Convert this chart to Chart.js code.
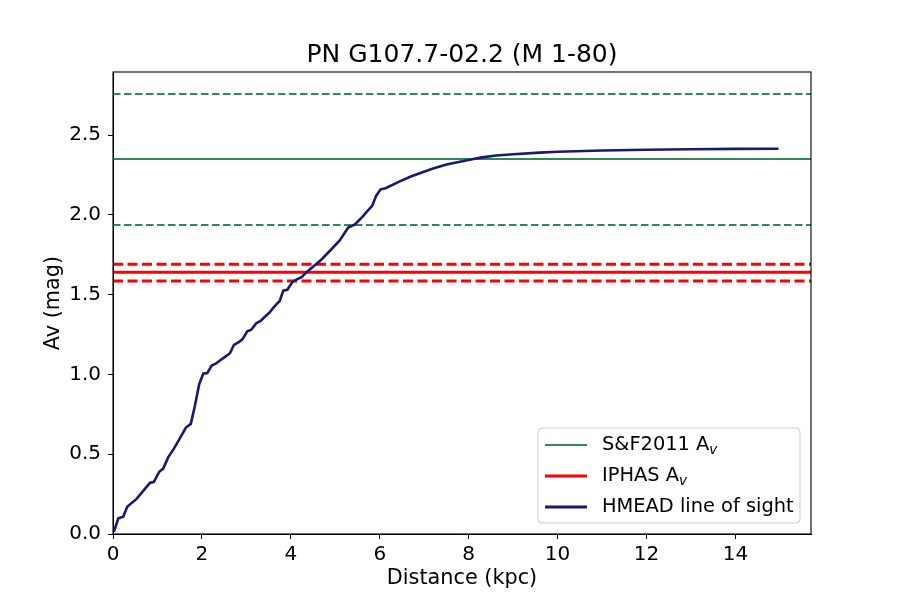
<!DOCTYPE html>
<html>
<head>
<meta charset="utf-8">
<script src="https://cdn.jsdelivr.net/npm/chart.js@4.4.1/dist/chart.umd.min.js"></script>
<style>
  html, body { margin: 0; padding: 0; background: #fff; }
  #wrap { width: 900px; height: 600px; }
</style>
</head>
<body>
<div id="wrap"><canvas id="av-chart" width="900" height="600"></canvas></div>
<script>
// HMEAD line of sight (distance in kpc, Av in mag)
const distKpc = [0.02, 0.12, 0.23, 0.32, 0.42, 0.53, 0.68, 0.83, 0.92, 1.04, 1.13, 1.24, 1.37, 1.5, 1.64, 1.75,
  1.84, 1.94, 2.03, 2.12, 2.22, 2.31, 2.42, 2.52, 2.63, 2.72, 2.82, 2.91, 3.02, 3.11, 3.22, 3.32, 3.41, 3.51,
  3.6, 3.68, 3.75, 3.83, 3.92, 4.04, 4.14, 4.24, 4.39, 4.5, 4.69, 4.88, 5.1, 5.29, 5.44, 5.62, 5.71, 5.83,
  5.92, 6.02, 6.13, 6.45, 6.7, 6.9, 7.2, 7.5, 7.75, 8.02, 8.3, 8.62, 9.0, 9.6, 10.0, 11.0, 12.0, 13.0, 14.0, 14.97];
const hmeadAv = [0.014, 0.098, 0.108, 0.17, 0.195, 0.22, 0.27, 0.32, 0.327, 0.39, 0.41, 0.48, 0.535, 0.598, 0.667, 0.69,
  0.80, 0.94, 1.004, 1.008, 1.056, 1.067, 1.09, 1.11, 1.133, 1.185, 1.20, 1.22, 1.27, 1.28, 1.32, 1.335, 1.36, 1.385,
  1.415, 1.44, 1.46, 1.525, 1.53, 1.58, 1.595, 1.61, 1.65, 1.675, 1.72, 1.775, 1.84, 1.92, 1.94, 1.99, 2.02, 2.056,
  2.12, 2.16, 2.167, 2.21, 2.24, 2.26, 2.29, 2.315, 2.33, 2.345, 2.36, 2.372, 2.38, 2.39, 2.395, 2.403, 2.408, 2.411, 2.413, 2.414];

// horizontal reference levels: [value, lower, upper]
const sfAv = [2.35, 1.936, 2.757];
const iphasAv = [1.64, 1.585, 1.69];

const xTicks = [0, 2, 4, 6, 8, 10, 12, 14];
const yTicks = [0.0, 0.5, 1.0, 1.5, 2.0, 2.5];

const X_MIN = 0, X_MAX = 15.7;
const Y_MIN = 0, Y_MAX = 2.895;

const GREEN = '#2e8b57';
const RED = '#ff0000';
const NAVY = '#191970';
const FONT = "'DejaVu Sans', sans-serif";

const hline = (v) => [{ x: X_MIN, y: v }, { x: X_MAX, y: v }];

const legendItems = [
  { text: 'S&F2011 A', sub: 'v', color: GREEN, width: 2 },
  { text: 'IPHAS A', sub: 'v', color: RED, width: 3 },
  { text: 'HMEAD line of sight', sub: '', color: NAVY, width: 3 }
];

const frameAndLegend = {
  id: 'frameAndLegend',
  afterDraw(chart) {
    const { ctx, chartArea: a } = chart;
    ctx.save();
    ctx.strokeStyle = '#000';
    ctx.lineWidth = 1.1;
    ctx.strokeRect(a.left, a.top, a.right - a.left, a.bottom - a.top);

    // legend box, lower right
    const bx = 538, by = 428, bw = 262, bh = 95, r = 4;
    ctx.beginPath();
    ctx.roundRect(bx, by, bw, bh, r);
    ctx.fillStyle = 'rgba(255,255,255,0.8)';
    ctx.fill();
    ctx.strokeStyle = '#cccccc';
    ctx.lineWidth = 1;
    ctx.stroke();

    legendItems.forEach((it, i) => {
      const y = 445 + i * 31;
      ctx.beginPath();
      ctx.moveTo(545, y);
      ctx.lineTo(587, y);
      ctx.strokeStyle = it.color;
      ctx.lineWidth = it.width;
      ctx.stroke();
      ctx.fillStyle = '#000';
      ctx.textBaseline = 'middle';
      ctx.textAlign = 'left';
      ctx.font = `19.4px ${FONT}`;
      ctx.fillText(it.text, 602, y);
      if (it.sub) {
        const w = ctx.measureText(it.text).width;
        ctx.font = `italic 13.6px ${FONT}`;
        ctx.fillText(it.sub, 602 + w, y + 5);
      }
    });
    ctx.restore();
  }
};

const dashedLine = (label, v, color, width, dash, order) => ({
  label, data: hline(v), borderColor: color, borderWidth: width, borderDash: dash,
  pointRadius: 0, fill: false, order
});

const config = {
  type: 'line',
  data: {
    datasets: [
      {
        label: 'HMEAD line of sight',
        data: distKpc.map((d, i) => ({ x: d, y: hmeadAv[i] })),
        borderColor: NAVY,
        borderWidth: 2.6,
        pointRadius: 0,
        tension: 0,
        fill: false,
        order: 0
      },
      dashedLine('IPHAS Av', iphasAv[0], RED, 3, [], 1),
      dashedLine('IPHAS low', iphasAv[1], RED, 3, [10, 4.5], 1),
      dashedLine('IPHAS high', iphasAv[2], RED, 3, [10, 4.5], 1),
      dashedLine('S&F2011 Av', sfAv[0], GREEN, 2, [], 2),
      dashedLine('S&F2011 low', sfAv[1], GREEN, 2, [7.5, 3.5], 2),
      dashedLine('S&F2011 high', sfAv[2], GREEN, 2, [7.5, 3.5], 2)
    ]
  },
  options: {
    responsive: false,
    animation: false,
    devicePixelRatio: 1,
    layout: { padding: { top: 0, right: 89, bottom: 0, left: 0 } },
    plugins: {
      legend: { display: false },
      tooltip: { enabled: false },
      title: {
        display: true,
        text: 'PN G107.7-02.2 (M 1-80)',
        fullSize: false,
        color: '#000',
        font: { family: FONT, size: 25, weight: 'normal' },
        padding: { top: 40.8, bottom: 1.2 }
      }
    },
    scales: {
      x: {
        type: 'linear',
        min: X_MIN,
        max: X_MAX,
        afterFit: (s) => { s.height = 66; },
        afterBuildTicks: (s) => { s.ticks = xTicks.map(v => ({ value: v })); },
        grid: { drawOnChartArea: false, tickLength: 5, tickColor: '#000', tickWidth: 1 },
        border: { display: true, color: '#000', width: 1 },
        ticks: { color: '#000', padding: 4, maxRotation: 0, font: { family: FONT, size: 20 }, callback: (v) => `${v}` },
        title: { display: true, text: 'Distance (kpc)', color: '#000', font: { family: FONT, size: 20.8 }, padding: { top: 0, bottom: 9 } }
      },
      y: {
        type: 'linear',
        min: Y_MIN,
        max: Y_MAX,
        afterFit: (s) => { s.width = 113; },
        afterBuildTicks: (s) => { s.ticks = yTicks.map(v => ({ value: v })); },
        grid: { drawOnChartArea: false, tickLength: 5, tickColor: '#000', tickWidth: 1 },
        border: { display: true, color: '#000', width: 1 },
        ticks: { color: '#000', padding: 7, font: { family: FONT, size: 20 }, callback: (v) => v.toFixed(1) },
        title: { display: true, text: 'Av (mag)', color: '#000', font: { family: FONT, size: 20.8 }, padding: { top: 41, bottom: 0 } }
      }
    }
  },
  plugins: [frameAndLegend]
};

const avChart = new Chart(document.getElementById('av-chart'), config);
</script>
</body>
</html>
